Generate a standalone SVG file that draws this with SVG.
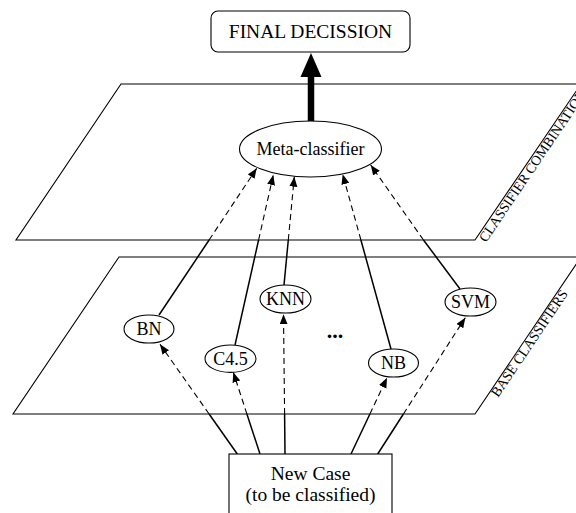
<svg xmlns="http://www.w3.org/2000/svg" width="576" height="513" viewBox="0 0 576 513">
<defs>
<marker id="ah" markerUnits="userSpaceOnUse" markerWidth="11" markerHeight="9" refX="10" refY="4" orient="auto">
<path d="M0,0 L10,4 L0,8 z" fill="#000"/>
</marker>
<style>
text{font-family:"Liberation Serif","Times New Roman",serif;fill:#000}
.plane{fill:none;stroke:#000;stroke-width:1.1}
.node{fill:#fff;stroke:#000;stroke-width:1.1}
.solid{stroke:#000;stroke-width:1.5;fill:none}
.thick{stroke:#000;stroke-width:6.5;fill:none}
.dash{stroke:#000;stroke-width:1.1;fill:none;stroke-dasharray:6,4;marker-end:url(#ah)}
.lbl{font-size:18px;text-anchor:middle}
.side{font-size:14px}
</style>
</defs>
<rect width="576" height="513" fill="#fff"/>
<g id="plane-combination">
<polygon class="plane" points="121,84 581,84 475,240 16,240"/>
<text class="side" transform="translate(486,243) rotate(-56)">CLASSIFIER COMBINATION</text>
</g>
<g id="plane-base">
<polygon class="plane" points="119,257 581,257 475,414 13,414"/>
<text class="side" transform="translate(498,398) rotate(-56)">BASE CLASSIFIERS</text>
</g>
<g id="connectors">
<line class="thick" x1="311" y1="122" x2="311" y2="76"/>
<polygon points="300.5,77 321.5,77 311,53" fill="#000"/>
<line class="solid" x1="159" y1="315" x2="209.1" y2="240"/>
<line class="dash" x1="209.1" y1="240" x2="256.7" y2="168.3"/>
<line class="solid" x1="235" y1="345" x2="258.6" y2="240"/>
<line class="dash" x1="258.6" y1="240" x2="273.3" y2="175"/>
<line class="solid" x1="284" y1="285" x2="288.3" y2="240"/>
<line class="dash" x1="288.3" y1="240" x2="294.3" y2="176.7"/>
<line class="solid" x1="391" y1="349" x2="360.9" y2="240"/>
<line class="dash" x1="360.9" y1="240" x2="342.7" y2="174.3"/>
<line class="solid" x1="460" y1="289" x2="423.5" y2="240"/>
<line class="dash" x1="423.5" y1="240" x2="370.7" y2="165"/>
<line class="solid" x1="237.3" y1="454" x2="209.1" y2="414"/>
<line class="dash" x1="209.1" y1="414" x2="160" y2="344.3"/>
<line class="solid" x1="260" y1="454" x2="246.9" y2="414"/>
<line class="dash" x1="246.9" y1="414" x2="233.3" y2="372.3"/>
<line class="solid" x1="285" y1="454" x2="284.6" y2="414"/>
<line class="dash" x1="284.6" y1="414" x2="283.5" y2="314.3"/>
<line class="solid" x1="351" y1="454" x2="369.9" y2="414"/>
<line class="dash" x1="369.9" y1="414" x2="387" y2="377.7"/>
<line class="solid" x1="377.7" y1="454" x2="403.4" y2="414"/>
<line class="dash" x1="403.4" y1="414" x2="465.3" y2="317.7"/>
</g>
<g id="final-decision">
<rect class="node" x="211" y="11" width="199" height="41" rx="7"/>
<text class="lbl" x="310.5" y="38" style="font-size:19.5px">FINAL DECISSION</text>
</g>
<g id="meta-classifier">
<ellipse class="node" cx="310.5" cy="149" rx="71" ry="28"/>
<text class="lbl" x="310.5" y="155">Meta-classifier</text>
</g>
<g id="bn">
<ellipse class="node" cx="149" cy="329" rx="25" ry="14"/>
<text class="lbl" x="149" y="335">BN</text>
</g>
<g id="c45">
<ellipse class="node" cx="230.5" cy="358.7" rx="25.5" ry="13.7"/>
<text class="lbl" x="230.5" y="365">C4.5</text>
</g>
<g id="knn">
<ellipse class="node" cx="285.5" cy="299" rx="25.5" ry="14"/>
<text class="lbl" x="285.5" y="305">KNN</text>
</g>
<g id="nb">
<ellipse class="node" cx="393.5" cy="363" rx="25" ry="14"/>
<text class="lbl" x="393.5" y="369">NB</text>
</g>
<g id="svm">
<ellipse class="node" cx="470.5" cy="302" rx="25.5" ry="14"/>
<text class="lbl" x="470.5" y="308">SVM</text>
</g>
<g id="ellipsis">
<text class="lbl" x="335" y="338" font-weight="bold" style="font-size:22px">...</text>
</g>
<g id="new-case">
<rect class="node" x="229" y="454" width="163" height="80"/>
<text class="lbl" x="310.5" y="480" style="font-size:19.5px">New Case</text>
<text class="lbl" x="310.5" y="501" style="font-size:19.5px">(to be classified)</text>
</g>
</svg>
